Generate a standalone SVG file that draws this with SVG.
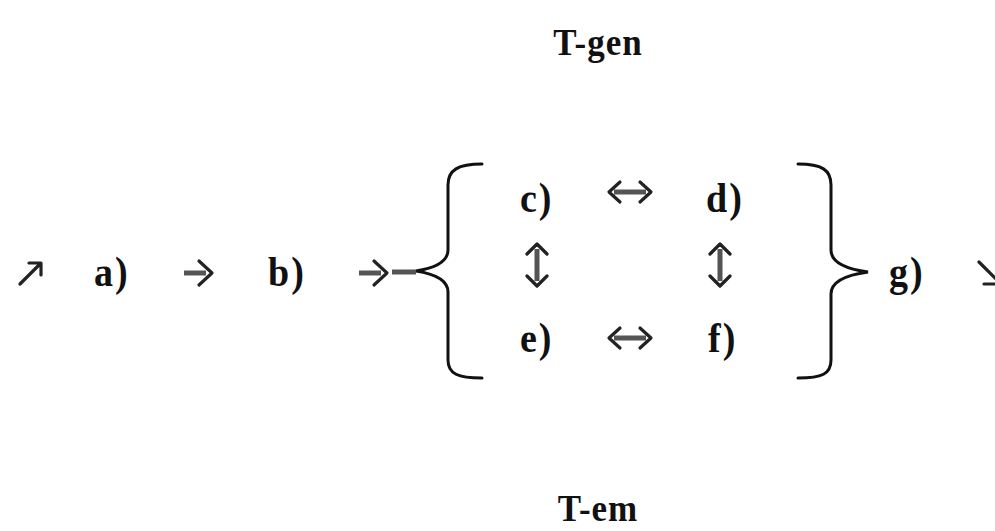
<svg xmlns="http://www.w3.org/2000/svg" width="995" height="531" viewBox="0 0 995 531">
<style>
.t{font-family:"Liberation Serif","Times New Roman",serif;font-weight:bold;font-size:38px;fill:#111;letter-spacing:2px}
.h{font-family:"Liberation Serif","Times New Roman",serif;font-weight:bold;font-size:35px;fill:#111;letter-spacing:1px}
.ar{fill:none;stroke:#222;stroke-width:3.2;stroke-linecap:round;stroke-linejoin:round}
.bar{fill:none;stroke:#555;stroke-width:5}
.br{fill:none;stroke:#111;stroke-width:3;stroke-linecap:round}
</style>
<rect width="995" height="531" fill="#fff"/>
<g id="t-gen"><text class="h" text-anchor="middle" transform="translate(598,55) scale(1,1.1)">T-gen</text></g>
<g id="t-em"><text class="h" text-anchor="middle" transform="translate(598,521) scale(1,1.1)">T-em</text></g>
<g id="a"><text class="t" transform="translate(94,286) scale(1,1.1)">a)</text></g>
<g id="b"><text class="t" transform="translate(268,286) scale(1,1.1)">b)</text></g>
<g id="c"><text class="t" transform="translate(520,212) scale(1,1.1)">c)</text></g>
<g id="d"><text class="t" transform="translate(706,212) scale(1,1.1)">d)</text></g>
<g id="e"><text class="t" transform="translate(520,352) scale(1,1.1)">e)</text></g>
<g id="f"><text class="t" transform="translate(708,352) scale(1,1.1)">f)</text></g>
<g id="g"><text class="t" transform="translate(889,286) scale(1,1.1)">g)</text></g>
<g id="braces">
<path class="br" d="M482,164 C458,164 448,170 448,185 L448,250 C448,262 435,268 416,271 C435,274 448,280 448,292 L448,360 C448,374 458,378 482,378"/>
<path class="br" d="M798,164 C822,164 831,170 831,185 L831,250 C831,262 846,269 868,272 C846,275 831,282 831,294 L831,360 C831,374 822,378 798,378"/>
</g>
<g id="connectors">
<path class="ar" d="M20,284 L40,264 M29,263 L41,263 L41,275"/>
<path class="bar" d="M184,273 L206,273"/><path class="ar" d="M199,261 L212,273 L199,285"/>
<path class="bar" d="M359,273 L381,273"/><path class="ar" d="M374,261 L387,273 L374,285"/>
<path class="bar" d="M392,272 L416,272"/>
<path class="bar" d="M614,192 L646,192"/><path class="ar" d="M620,182 L609,192 L620,202 M640,182 L651,192 L640,202"/>
<path class="bar" d="M614,338 L646,338"/><path class="ar" d="M620,328 L609,338 L620,348 M640,328 L651,338 L640,348"/>
<path class="bar" d="M537,249 L537,281"/><path class="ar" d="M527,254 L537,244 L547,254 M527,276 L537,286 L547,276"/>
<path class="bar" d="M720,249 L720,281"/><path class="ar" d="M710,254 L720,244 L730,254 M710,276 L720,286 L730,276"/>
<path class="ar" d="M979,262 L1001,284 M984,284 L1001,284"/>
</g>
</svg>
